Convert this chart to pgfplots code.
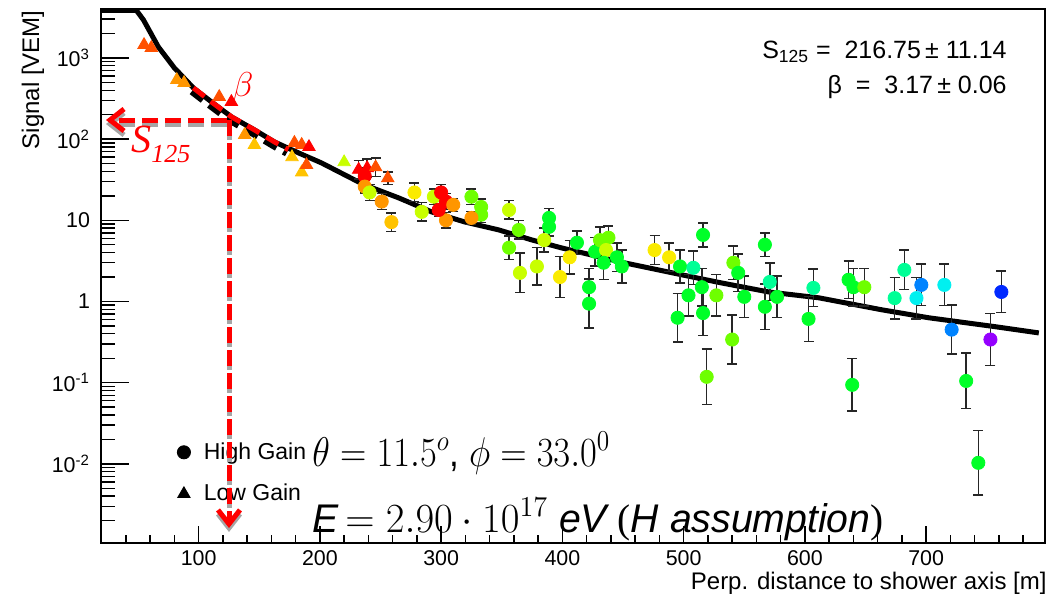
\documentclass[border=0pt]{standalone}
\usepackage{pgfplots}
\pgfplotsset{compat=1.18}
\usepackage{pgfplotstable}
\usepackage{graphicx}
\usepackage{fontspec}
\setmainfont{Liberation Sans}
\newfontfamily\tnr{Liberation Serif}
\usetikzlibrary{arrows.meta}

\pgfplotstableread{
x y c ep em
237 35 0 .25 .20
237 26 2 .20 .167
241 22 5 .25 .20
251 17 2 .25 .20
259 9.5 3 .30 .231
278 22 4 .30 .231
284 12.7 5 .30 .231
294 19.5 5 .25 .20
300 22 0 .25 .20
304 17 0 .25 .20
310 15.5 2 .20 .167
304 10 2 .25 .20
298 13.4 0 .20 .167
325 19.5 6 .25 .20
333 14.6 6 .25 .20
333 11.7 6 .25 .20
325 10.7 2 .20 .167
356 13.4 5 .30 .231
364 7.6 6 .30 .231
356 4.6 6 .40 .286
365 2.25 5 .75 .429
379 2.7 5 .70 .412
389 10.7 7 .30 .231
389 8.3 7 .30 .231
385 5.7 5 .40 .286
398 2.0 4 .80 .444
406 3.5 4 .60 .375
412 5.3 7 .40 .286
422 1.5 7 .70 .412
422 0.94 7 1.0 .50
427 4.1 7 .50 .333
431 5.7 6 .45 .310
438 6.1 6 .40 .286
436 4.3 5 .50 .333
434 3.0 7 .60 .375
449 2.7 7 .60 .375
445 3.5 7 .50 .333
476 4.3 4 .50 .333
488 3.5 4 .50 .333
497 2.7 7 .60 .375
516 6.6 7 .40 .286
508 2.6 8 .60 .375
504 1.19 7 .80 .444
515 1.5 7 .70 .412
516 0.72 7 .90 .474
495 0.63 7 1.0 .50
519 0.118 6 1.2 .545
527 1.19 6 .80 .444
541 3.0 6 .60 .375
545 2.25 7 .70 .412
550 1.14 7 .80 .444
540 0.34 6 1.0 .50
567 5.0 7 .40 .286
571 1.74 8 .70 .412
567 0.86 7 .90 .474
577 1.14 7 .80 .444
607 1.47 8 .70 .412
603 0.61 7 .90 .474
636 1.85 7 .70 .412
640 1.5 7 .70 .412
649 1.5 6 .70 .412
639 0.094 7 1.1 .524
682 2.45 8 .75 .429
674 1.1 8 .80 .444
692 1.1 9 .80 .444
696 1.6 10 .80 .444
715 1.6 9 .80 .444
721 0.45 10 1.0 .50
762 1.31 11 .80 .444
753 0.34 12 1.1 .524
733 0.105 7 1.2 .545
743 0.0103 7 1.5 .60
}\hg

\pgfplotstableread{
x y c
55 1445 1
61 1330 1
82 535 2
88 492 2
117 331 1
127 287 0
138 113 2
146 85 3
179 90 1
185 85 1
191 80 0
177 60 3
185 39 3
189 48 1
220 52 5
}\lgA

\pgfplotstableread{
x y c ep em
232 42 0 .30 .231
239 44 0 .30 .231
246 45 1 .30 .231
256 33 1 .20 .167
}\lgB

\pgfplotstableread{
x y
19.5 3850
48.7 3850
54.5 2938
66.8 1365
80.0 753
95.7 427
110.6 287
127.1 188
146.0 130
162.5 92.4
182.3 67.7
201.3 50.9
228.5 31.5
236.8 27.3
264.9 18.9
292.1 12.7
319.3 9.55
347.4 7.62
374.6 5.74
399.3 4.57
451.3 2.99
506.6 2.01
531.4 1.69
570.1 1.31
611.4 1.11
663.4 0.79
702.1 0.63
756.6 0.49
792.9 0.41
}\fit

\pgfplotstableread{
x y
95.7 427
110.6 287
127.1 188
146.0 130
162.5 92.4
174 74
}\tang

\begin{document}
\begin{tikzpicture}
\begin{axis}[
  at={(0,0)}, anchor=south west,
  scale only axis, width=472pt, height=267pt,
  xmin=19.5, xmax=798,
  ymode=log, ymin=1.06e-3, ymax=4000,
  axis line style={line width=0.8pt, black},
  tick align=inside, tick pos=left,
  xtick={100,200,...,700},
  minor xtick={20,40,...,800},
  ytick={0.01,0.1,1,10,100,1000},
  yticklabels={10\textsuperscript{-2},10\textsuperscript{-1},1,10,10\textsuperscript{2},10\textsuperscript{3}},
  minor ytick={0.002,0.003,0.004,0.005,0.006,0.007,0.008,0.009,0.02,0.03,0.04,0.05,0.06,0.07,0.08,0.09,0.2,0.3,0.4,0.5,0.6,0.7,0.8,0.9,2,3,4,5,6,7,8,9,20,30,40,50,60,70,80,90,200,300,400,500,600,700,800,900,2000,3000},
  xtick style={black, line width=0.7pt, /pgfplots/major tick length=8.5pt, /pgfplots/minor tick length=4pt},
  ytick style={black, line width=0.7pt, /pgfplots/major tick length=14pt, /pgfplots/minor tick length=7pt},
  ticklabel style={font=\fontsize{10.7}{12}\selectfont},
  /pgf/number format/assume math mode=true,
  yticklabel style={xshift=-2pt},
  xticklabel style={yshift=0pt},
  colormap={rootpal}{rgb255=(255,0,0) rgb255=(255,80,0) rgb255=(255,150,0) rgb255=(255,195,0) rgb255=(250,235,0) rgb255=(200,255,0) rgb255=(110,255,0) rgb255=(0,255,40) rgb255=(0,255,150) rgb255=(0,240,240) rgb255=(0,130,255) rgb255=(0,40,255) rgb255=(150,0,255)},
  point meta min=0, point meta max=12,
  legend style={draw=none, fill=none, at={(0.069,0.204)}, anchor=north west,
    font=\fontsize{11.5}{13}\selectfont, row sep=7pt},
  legend cell align=left,
  legend image code/.code={\path[draw=none,fill=none] (0cm,0cm) -- (0.48cm,0cm); \draw[#1] plot coordinates {(0.2cm,0cm)};},
]
% fit curve
\addplot[forget plot, black, line width=2.5pt, line join=round] table[x=x,y=y] {\fit};
% tangent (beta) overlay
\addplot[forget plot, black, line width=2.8pt, dash pattern=on 7pt off 4pt, xshift=-1pt, yshift=-2pt] table[x=x,y=y] {\tang};
\addplot[forget plot, red, line width=2.5pt, dash pattern=on 7pt off 4pt] table[x=x,y=y] {\tang};
% low gain
\addplot[forget plot, only marks, scatter, point meta=explicit, mark=triangle*, mark size=3.6pt,
  scatter/use mapped color={draw=mapped color, fill=mapped color}]
  table[x=x,y=y,meta=c] {\lgA};
\addplot[forget plot, only marks, scatter, point meta=explicit, mark=triangle*, mark size=3.6pt,
  scatter/use mapped color={draw=mapped color, fill=mapped color},
  error bars/.cd, y dir=both, y explicit relative,
  error bar style={line width=0.75pt, black!85},
  error mark options={rotate=90, mark size=2.5pt, line width=0.75pt, black!85}]
  table[x=x,y=y,meta=c,y error plus=ep,y error minus=em] {\lgB};
% high gain
\addplot[forget plot, only marks, scatter, point meta=explicit, mark=*, mark size=3.3pt,
  scatter/use mapped color={draw=mapped color, fill=mapped color},
  error bars/.cd, y dir=both, y explicit relative,
  error bar style={line width=0.75pt, black!85},
  error mark options={rotate=90, mark size=2.5pt, line width=0.75pt, black!85}]
  table[x=x,y=y,meta=c,y error plus=ep,y error minus=em] {\hg};
\addlegendimage{only marks, mark=*, black, mark size=3.3pt}
\addlegendentry{High Gain}
\addlegendimage{only marks, mark=triangle*, black, mark size=3.6pt}
\addlegendentry{Low Gain}
\end{axis}

\begin{scope}[x=0.5pt, y=-0.5pt, shift={(-101,-543)}]
  % axis titles
  \node[rotate=90, anchor=east, inner sep=0, font=\fontsize{12}{14}\selectfont] at (33,10) {Signal [VEM]};
  \node[anchor=east, inner sep=0, font=\fontsize{12}{14}\selectfont] at (1047,583) {Perp. distance to shower axis [m]};
  % stats
  \node[anchor=east, inner sep=0, font=\fontsize{12.5}{14}\selectfont] at (1007,52) {S\textsubscript{125} =\ \ 216.75\,±\ 11.14};
  \node[anchor=east, inner sep=0, font=\fontsize{12.5}{14}\selectfont] at (1007,87) {β\ \ =\ \ 3.17\,±\ 0.06};
  % S125 arrows with shadow
  \draw[gray!70, line width=2.5pt, dash pattern=on 8pt off 3.5pt, -{Straight Barb[length=7pt,width=11pt]}] (227,124) -- (106,124);
  \draw[red, line width=2.5pt, dash pattern=on 8pt off 3.5pt, -{Straight Barb[length=7pt,width=11pt]}] (227,120) -- (106,120);
  \draw[gray!70, line width=2.5pt, dash pattern=on 8pt off 3.5pt, -{Straight Barb[length=7pt,width=11pt]}] (229,124) -- (229,532);
  \draw[red, line width=2.5pt, dash pattern=on 8pt off 3.5pt, -{Straight Barb[length=7pt,width=11pt]}] (229,120) -- (229,528);
  \node[red, inner sep=0] at (243,88) {\fontsize{19}{20}\selectfont$\beta$};
  \node[red, anchor=base west, inner sep=0] at (131,152) {\tnr\itshape\fontsize{20}{22}\selectfont S\raisebox{-5pt}{\fontsize{13}{14}\selectfont 125}};
  % big annotations
  \node[anchor=base west, inner sep=0] at (312,466) {\scalebox{0.88}[1]{\fontsize{20}{24}\selectfont $\theta = 11.5^{o}$, $\phi = 33.0^{0}$}};
  \node[anchor=base west, inner sep=0] at (312,532) {\scalebox{0.98}[1]{\fontsize{20}{24}\selectfont {\itshape E}$\,=2.90\cdot 10^{17}$ {\itshape eV} {\tnr(}{\itshape H assumption}{\tnr)}}};
\end{scope}

\pgfresetboundingbox
\begin{scope}[x=0.5pt, y=-0.5pt, shift={(-101,-543)}]
  \path (0,0) rectangle (1054,596);
\end{scope}
\end{tikzpicture}
\end{document}
